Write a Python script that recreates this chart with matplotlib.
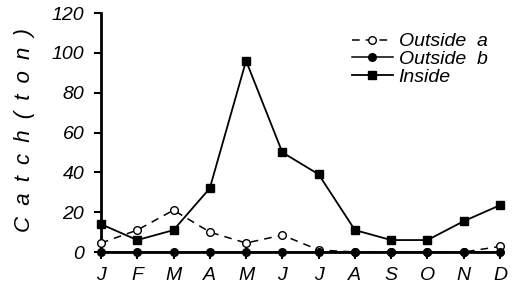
import numpy as np
import matplotlib.pyplot as plt

months = ['J', 'F', 'M', 'A', 'M', 'J', 'J', 'A', 'S', 'O', 'N', 'D']
outside_a = [4.5, 11, 21, 10, 4.5, 8.5, 1, 0, 0, 0, 0, 2.8]
outside_b = [0, 0, 0, 0, 0, 0, 0, 0, 0, 0, 0, 0]
inside = [14, 6, 11, 32, 96, 50, 39, 11, 6, 6, 15.5, 23.5]

plt.rcParams['font.family'] = ['Liberation Sans', 'DejaVu Sans']

fig = plt.figure(figsize=(5.15, 2.89), dpi=100)
ax = fig.add_axes([0.196, 0.128, 0.775, 0.827])

x = np.arange(len(months))
ax.plot(x, outside_a, color='black', lw=1.1, ls=(0, (5, 4)), marker='o',
        mfc='white', mec='black', ms=5.5, label='Outside  a', clip_on=False, zorder=3)
ax.plot(x, outside_b, color='black', lw=1.1, marker='o', ms=5.5,
        label='Outside  b', clip_on=False, zorder=4)
ax.plot(x, inside, color='black', lw=1.3, marker='s', ms=5.5,
        label='Inside', clip_on=False, zorder=5)

ax.set_xlim(0, 11)
ax.set_ylim(0, 120)
ax.set_yticks(range(0, 121, 20))
ax.set_xticks(x)
ax.set_xticklabels(months, style='italic', fontsize=14)
for lab in ax.get_yticklabels():
    lab.set_style('italic')
    lab.set_fontsize(14)

ax.spines['top'].set_visible(False)
ax.spines['right'].set_visible(False)
ax.spines['left'].set_linewidth(2)
ax.spines['bottom'].set_linewidth(2)
ax.tick_params(axis='y', direction='out', length=5, width=1.5, pad=7)
ax.tick_params(axis='x', direction='out', length=5, width=1.5, pad=6)

# spaced-out axis title, as in the original
ylab = '\u2002'.join('Catch(ton)')
ax.set_ylabel(ylab, style='italic', fontsize=16)
ax.yaxis.set_label_coords(-0.165, 0.51)

ax.legend(loc='upper right', bbox_to_anchor=(0.988, 0.95), frameon=False,
          prop={'style': 'italic', 'size': 14}, handlelength=2.1,
          handletextpad=0.3, labelspacing=0.0, borderaxespad=0.0)

fig.savefig('out.png', dpi=100)
